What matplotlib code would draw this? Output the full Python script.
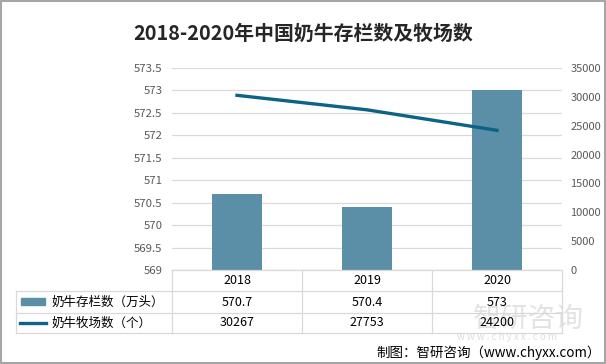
import numpy as np
import matplotlib.pyplot as plt
from matplotlib.lines import Line2D
from matplotlib.patches import Rectangle

plt.rcParams['font.family'] = ['Noto Sans CJK SC', 'DejaVu Sans']

years = ['2018', '2019', '2020']
cattle = [570.7, 570.4, 573]          # 奶牛存栏数（万头）
farms = [30267, 27753, 24200]         # 奶牛牧场数（个）
cattle_lbl = ['570.7', '570.4', '573']
farms_lbl = ['30267', '27753', '24200']
name_bar = '奶牛存栏数（万头）'
name_line = '奶牛牧场数（个）'

bar_c = '#5b8fa7'
line_c = '#0b6385'
grid_c = '#d9d9d9'
tick_c = '#595959'

W, H = 606, 364
fig = plt.figure(figsize=(W / 100, H / 100), dpi=100)

def fx(x):
  return x / W

def fy(y):
  return 1 - y / H

# plot area in pixel coords
L, R, T, B = 172, 562, 68, 270
ax = fig.add_axes([fx(L), fy(B), fx(R - L), (B - T) / H])
x = np.arange(len(years))
ax.bar(x, cattle, width=0.39, color=bar_c, zorder=2)
ax.set_ylim(569, 573.5)
ax.set_yticks(np.arange(569, 573.6, 0.5))
ax.set_yticklabels(['569', '569.5', '570', '570.5', '571', '571.5', '572', '572.5', '573', '573.5'])
ax.set_xlim(-0.5, 2.5)
ax.set_xticks([])
ax.grid(axis='y', color=grid_c, lw=0.9, zorder=0)
for s in ax.spines.values():
  s.set_visible(False)
ax.tick_params(axis='y', length=0, pad=7, labelsize=8.2, labelcolor=tick_c)

ax2 = ax.twinx()
ax2.plot(x, farms, color=line_c, lw=2.4, zorder=3)
ax2.set_ylim(0, 35000)
ax2.set_yticks(np.arange(0, 35001, 5000))
for s in ax2.spines.values():
  s.set_visible(False)
ax2.tick_params(axis='y', length=0, pad=6, labelsize=8, labelcolor=tick_c)

# title
fig.text(0.5, fy(33), '2018-2020年中国奶牛存栏数及牧场数', ha='center', va='center',
         fontsize=14.3, fontweight='bold', color='#262626')

# table
col_x = [L + (R - L) * i / 3 for i in range(4)]
row_y = [270, 291, 313, 333]
TL = 16

def hline(y, x0, x1):
  fig.add_artist(Line2D([fx(x0), fx(x1)], [fy(y), fy(y)], color=grid_c, lw=0.9))

def vline(xx, y0, y1):
  fig.add_artist(Line2D([fx(xx), fx(xx)], [fy(y0), fy(y1)], color=grid_c, lw=0.9))

hline(row_y[0], L, R)
for y in row_y[1:]:
  hline(y, TL, R)
vline(TL, row_y[1], row_y[3])
for cx in col_x:
  vline(cx, row_y[0], row_y[3])

# watermark (drawn under the table text)
fig.text(fx(528), fy(319), '智研咨询', ha='center', va='center', fontsize=20, color='#d0d0d0', alpha=0.6, zorder=0)
fig.text(fx(507), fy(337), 'w w w . c h y x x . c o m', ha='center', va='center', fontsize=7, color='#d0d0d0', alpha=0.7, zorder=0)

for i in range(3):
  cx = (col_x[i] + col_x[i + 1]) / 2
  fig.text(fx(cx), fy((row_y[0] + row_y[1]) / 2), years[i], ha='center', va='center', fontsize=9, color='#000000')
  fig.text(fx(cx), fy((row_y[1] + row_y[2]) / 2), cattle_lbl[i], ha='center', va='center', fontsize=9, color='#000000')
  fig.text(fx(cx), fy((row_y[2] + row_y[3]) / 2), farms_lbl[i], ha='center', va='center', fontsize=9, color='#000000')

# legend keys in table
fig.add_artist(Rectangle((fx(21), fy(305)), fx(24), 7 / H, color=bar_c))
fig.text(fx(51), fy((row_y[1] + row_y[2]) / 2), name_bar, ha='left', va='center', fontsize=9, color='#000000')
fig.add_artist(Line2D([fx(20), fx(46)], [fy(323), fy(323)], color=line_c, lw=2.4))
fig.text(fx(51), fy((row_y[2] + row_y[3]) / 2), name_line, ha='left', va='center', fontsize=9, color='#000000')

# source
fig.text(fx(601), fy(353), '制图：智研咨询（www.chyxx.com）', ha='right', va='center', fontsize=9.7, color='#000000')

# border
fig.add_artist(Rectangle((0.001, 0.002), 0.997, 0.996, fill=False, ec='#a6a6a6', lw=1.5))

fig.savefig('out.png', dpi=100)
